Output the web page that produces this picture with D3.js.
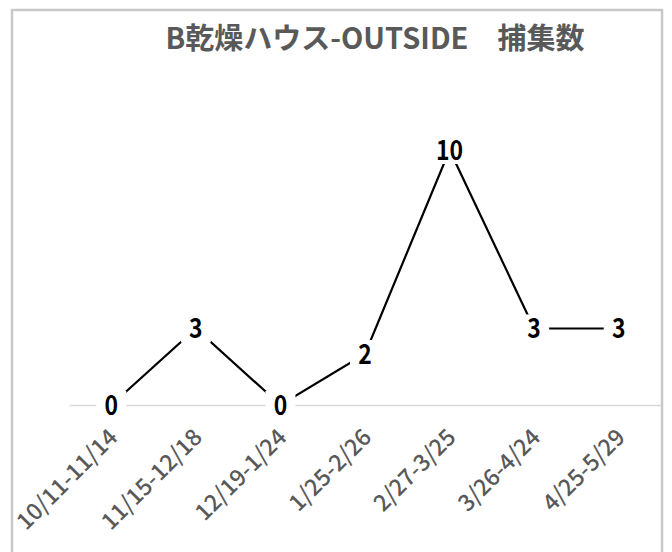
<!DOCTYPE html>
<html><head><meta charset="utf-8">
<script src="https://cdn.jsdelivr.net/npm/d3@7"></script>
<style>
body{margin:0;background:#fff;}
svg{display:block;}
</style></head>
<body>
<script>
const title = "B乾燥ハウス-OUTSIDE　捕集数";
const categories = ["10/11-11/14","11/15-12/18","12/19-1/24","1/25-2/26","2/27-3/25","3/26-4/24","4/25-5/29"];
const values = [0,3,0,2,10,3,3];

const W = 672, H = 552;
const svg = d3.select("body").append("svg").attr("width", W).attr("height", H);
const font = "'Noto Sans CJK JP','Noto Sans',sans-serif";

// chart border
svg.append("rect").attr("x",12).attr("y",10).attr("width",650).attr("height",560)
  .attr("fill","#fff").attr("stroke","#c8c8c8").attr("stroke-width",2.5);

const x = d3.scaleBand().domain(categories).range([69, 661]);
const y = d3.scaleLinear().domain([0, 10]).range([405, 150]);

// axis
const axis = svg.append("g").attr("transform", `translate(0,${y(0)})`)
  .call(d3.axisBottom(x).tickSize(0).tickFormat(""));
axis.select(".domain").attr("stroke","#d9d9d9").attr("stroke-width",1.5);

// x labels
svg.append("g").selectAll("text").data(categories).join("text")
  .attr("transform", d => `translate(${x(d)+x.bandwidth()/2+2},${y(0)+28}) rotate(-45)`)
  .attr("text-anchor","end").attr("dy","0.35em")
  .attr("font-family", font).attr("font-size", 23).attr("font-weight", 500)
  .attr("fill","#595959").text(d => d);

// line
const line = d3.line().x((d,i) => x(categories[i]) + x.bandwidth()/2).y(d => y(d));
svg.append("path").datum(values).attr("d", line)
  .attr("fill","none").attr("stroke","#000").attr("stroke-width",2.2);

// data labels with white background
const lg = svg.append("g").selectAll("g").data(values).join("g")
  .attr("transform", (d,i) => `translate(${x(categories[i]) + x.bandwidth()/2},${y(d)})`);
lg.append("rect").attr("x", d => -(String(d).length*6 + 9)).attr("y",-14)
  .attr("width", d => (String(d).length*12 + 18)).attr("height",28).attr("fill","#fff");
lg.append("text").attr("text-anchor","middle").attr("dy","0.36em")
  .attr("transform","scale(0.85,1)")
  .attr("font-family", font).attr("font-size", 27).attr("font-weight", 700)
  .attr("fill","#000").text(d => d);

// title
svg.append("text").attr("x", 375).attr("y", 39).attr("dy","0.36em")
  .attr("text-anchor","middle").attr("font-family", font).attr("font-size", 29)
  .attr("font-weight", 700).attr("fill","#595959").text(title);
</script>
</body></html>
